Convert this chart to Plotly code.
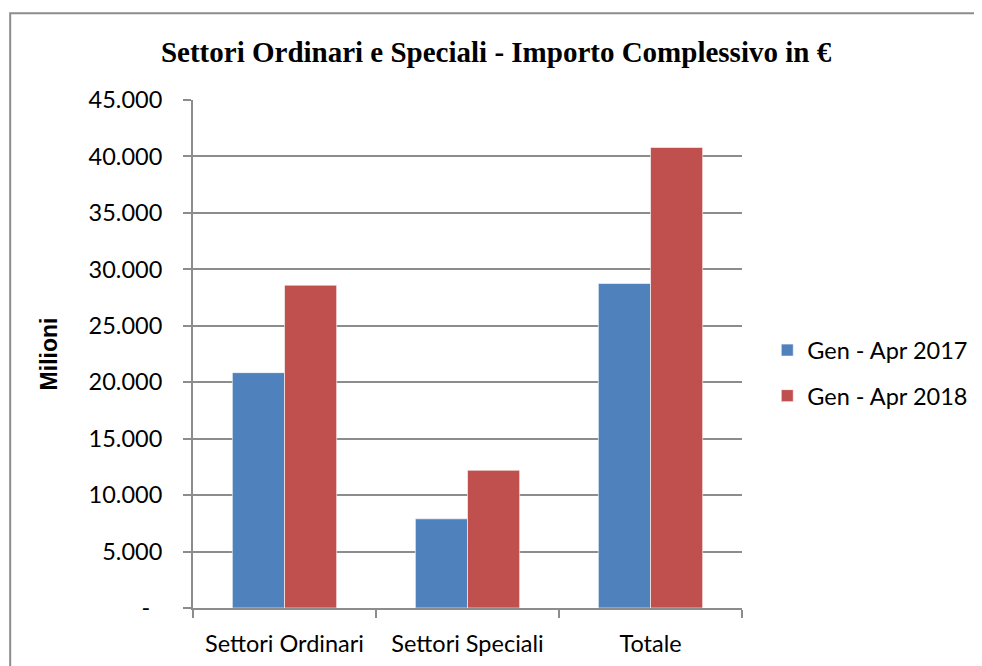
import plotly.graph_objects as go

# data
CATEGORIES = ['Settori Ordinari', 'Settori Speciali', 'Totale']
SERIES_NAMES = ['Gen - Apr 2017', 'Gen - Apr 2018']
VALUES_2017 = [20850, 7900, 28750]
VALUES_2018 = [28600, 12200, 40800]
TICK_VALS = [0, 5000, 10000, 15000, 20000, 25000, 30000, 35000, 40000, 45000]
TICK_TEXT = ['-  ', '5.000', '10.000', '15.000', '20.000', '25.000',
             '30.000', '35.000', '40.000', '45.000']

COLORS = ['#4F81BD', '#C0504D']
GRID = '#8c8c8c'
FONT = 'Lato, "Open Sans", sans-serif'

fig = go.Figure()
for name, vals, col in zip(SERIES_NAMES, [VALUES_2017, VALUES_2018], COLORS):
    fig.add_trace(go.Bar(x=CATEGORIES, y=vals, name=name, legendgroup=name,
                         marker=dict(color=col, line=dict(color='rgba(255,255,255,0.6)', width=1))))

#x-axis
fig.update_xaxes(showline=True, linecolor=GRID, linewidth=2,
                 ticks='outside', tickson='boundaries', ticklen=8, tickcolor=GRID, tickwidth=2,
                 showgrid=False, ticklabelstandoff=14,
                 tickfont=dict(size=23.5, color='black', family=FONT))

#y-axis
fig.update_yaxes(range=[0, 45000], tickvals=TICK_VALS, ticktext=TICK_TEXT,
                 showline=True, linecolor=GRID, linewidth=2,
                 ticks='outside', ticklen=8, tickcolor=GRID, tickwidth=2,
                 showgrid=True, gridcolor=GRID, gridwidth=2, zeroline=False,
                 tickfont=dict(size=23.5, color='black', family=FONT),
                 ticklabelstandoff=16,
                 title=dict(text='<b>Milioni</b>',
                            font=dict(size=23, color='black', family='"Liberation Sans", Arial, sans-serif'),
                            standoff=25))

#title + layout (page body has an 8px margin, so margins are shifted)
fig.update_layout(
    width=982, height=666,
    margin=dict(l=185, r=248, t=92, b=66),
    plot_bgcolor='white', paper_bgcolor='white',
    bargap=0.43, bargroupgap=0,
    title=dict(text='<b>Settori Ordinari e Speciali - Importo Complessivo in €</b>',
               font=dict(size=29, color='black', family='"Liberation Serif", serif'),
               x=0.497, xref='container', xanchor='center', y=0.934, yanchor='middle'),
    legend=dict(x=1.046, y=0.462, xanchor='left', yanchor='middle', traceorder='grouped',
                tracegroupgap=12, font=dict(size=23.5, color='black', family=FONT)),
    showlegend=True,
)

# outer chart border (cut off at right/bottom in the reference)
fig.add_shape(type='rect', xref='paper', yref='paper', x0=-0.333, y0=-0.5, x1=1.6, y1=1.171,
              line=dict(color='#8c8c8c', width=2), fillcolor='rgba(0,0,0,0)', layer='below')

fig.write_html('out.html')
